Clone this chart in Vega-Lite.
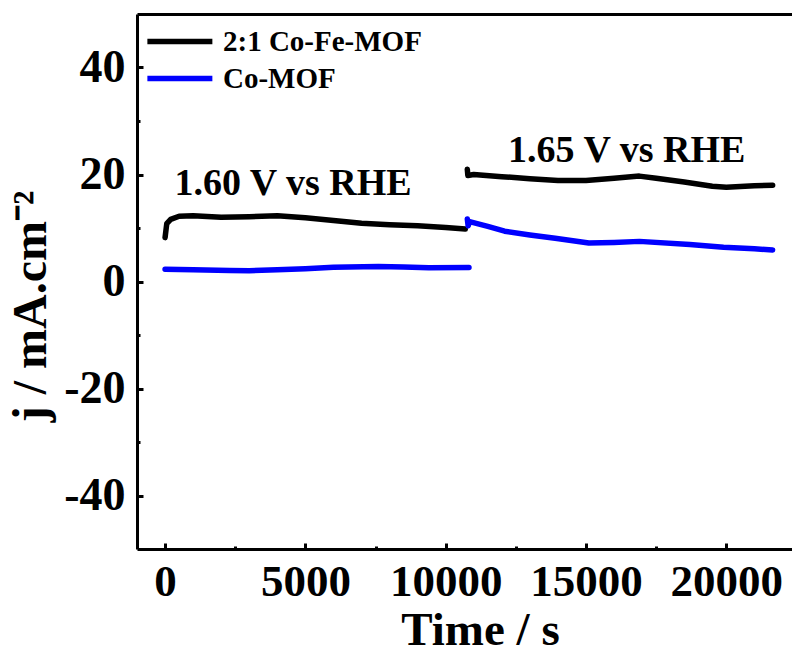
{
  "$schema": "https://vega.github.io/schema/vega-lite/v6.json",
  "autosize": "none",
  "width": 655,
  "height": 535,
  "padding": {"left": 137, "top": 14, "right": 0, "bottom": 106},
  "background": "white",
  "view": {"stroke": null},
  "config": {
    "font": "Liberation Serif",
    "axis": {"grid": false, "domainColor": "black", "domainWidth": 3, "tickColor": "black", "tickWidth": 3, "labelColor": "black", "titleColor": "black", "labelFont": "Liberation Serif", "titleFont": "Liberation Serif", "labelFontWeight": "bold", "titleFontWeight": "bold"}
  },
  "datasets": {
    "curves": [
      {"series": "2:1 Co-Fe-MOF", "seg": "a1", "t": 0, "j": 8.2},
      {"series": "2:1 Co-Fe-MOF", "seg": "a1", "t": 60, "j": 10.8},
      {"series": "2:1 Co-Fe-MOF", "seg": "a1", "t": 200, "j": 11.6},
      {"series": "2:1 Co-Fe-MOF", "seg": "a1", "t": 500, "j": 12.2},
      {"series": "2:1 Co-Fe-MOF", "seg": "a1", "t": 1000, "j": 12.3},
      {"series": "2:1 Co-Fe-MOF", "seg": "a1", "t": 2000, "j": 12.0},
      {"series": "2:1 Co-Fe-MOF", "seg": "a1", "t": 3000, "j": 12.1},
      {"series": "2:1 Co-Fe-MOF", "seg": "a1", "t": 4000, "j": 12.3},
      {"series": "2:1 Co-Fe-MOF", "seg": "a1", "t": 5000, "j": 11.9},
      {"series": "2:1 Co-Fe-MOF", "seg": "a1", "t": 6000, "j": 11.4},
      {"series": "2:1 Co-Fe-MOF", "seg": "a1", "t": 7000, "j": 10.9},
      {"series": "2:1 Co-Fe-MOF", "seg": "a1", "t": 8000, "j": 10.6},
      {"series": "2:1 Co-Fe-MOF", "seg": "a1", "t": 9000, "j": 10.4},
      {"series": "2:1 Co-Fe-MOF", "seg": "a1", "t": 10000, "j": 10.1},
      {"series": "2:1 Co-Fe-MOF", "seg": "a1", "t": 10700, "j": 9.8},
      {"series": "2:1 Co-Fe-MOF", "seg": "a2", "t": 10770, "j": 21.0},
      {"series": "2:1 Co-Fe-MOF", "seg": "a2", "t": 10790, "j": 19.8},
      {"series": "2:1 Co-Fe-MOF", "seg": "a2", "t": 11000, "j": 20.0},
      {"series": "2:1 Co-Fe-MOF", "seg": "a2", "t": 12000, "j": 19.6},
      {"series": "2:1 Co-Fe-MOF", "seg": "a2", "t": 13000, "j": 19.2},
      {"series": "2:1 Co-Fe-MOF", "seg": "a2", "t": 14000, "j": 18.9},
      {"series": "2:1 Co-Fe-MOF", "seg": "a2", "t": 15000, "j": 18.9},
      {"series": "2:1 Co-Fe-MOF", "seg": "a2", "t": 16000, "j": 19.3},
      {"series": "2:1 Co-Fe-MOF", "seg": "a2", "t": 16900, "j": 19.7},
      {"series": "2:1 Co-Fe-MOF", "seg": "a2", "t": 17500, "j": 19.3},
      {"series": "2:1 Co-Fe-MOF", "seg": "a2", "t": 18500, "j": 18.6},
      {"series": "2:1 Co-Fe-MOF", "seg": "a2", "t": 19500, "j": 17.8},
      {"series": "2:1 Co-Fe-MOF", "seg": "a2", "t": 20000, "j": 17.6},
      {"series": "2:1 Co-Fe-MOF", "seg": "a2", "t": 21000, "j": 17.9},
      {"series": "2:1 Co-Fe-MOF", "seg": "a2", "t": 21650, "j": 18.0},
      {"series": "Co-MOF", "seg": "b1", "t": 0, "j": 2.3},
      {"series": "Co-MOF", "seg": "b1", "t": 1000, "j": 2.2},
      {"series": "Co-MOF", "seg": "b1", "t": 2300, "j": 2.05},
      {"series": "Co-MOF", "seg": "b1", "t": 3000, "j": 2.0},
      {"series": "Co-MOF", "seg": "b1", "t": 4000, "j": 2.2},
      {"series": "Co-MOF", "seg": "b1", "t": 5000, "j": 2.4},
      {"series": "Co-MOF", "seg": "b1", "t": 6000, "j": 2.65},
      {"series": "Co-MOF", "seg": "b1", "t": 7600, "j": 2.8},
      {"series": "Co-MOF", "seg": "b1", "t": 8500, "j": 2.7},
      {"series": "Co-MOF", "seg": "b1", "t": 9400, "j": 2.55},
      {"series": "Co-MOF", "seg": "b1", "t": 10830, "j": 2.6},
      {"series": "Co-MOF", "seg": "b2", "t": 10770, "j": 11.7},
      {"series": "Co-MOF", "seg": "b2", "t": 10800, "j": 10.4},
      {"series": "Co-MOF", "seg": "b2", "t": 10850, "j": 11.2},
      {"series": "Co-MOF", "seg": "b2", "t": 11500, "j": 10.3},
      {"series": "Co-MOF", "seg": "b2", "t": 12100, "j": 9.4},
      {"series": "Co-MOF", "seg": "b2", "t": 13000, "j": 8.7},
      {"series": "Co-MOF", "seg": "b2", "t": 13900, "j": 8.1},
      {"series": "Co-MOF", "seg": "b2", "t": 15100, "j": 7.2},
      {"series": "Co-MOF", "seg": "b2", "t": 16000, "j": 7.3},
      {"series": "Co-MOF", "seg": "b2", "t": 16900, "j": 7.5},
      {"series": "Co-MOF", "seg": "b2", "t": 18700, "j": 6.9},
      {"series": "Co-MOF", "seg": "b2", "t": 19900, "j": 6.4},
      {"series": "Co-MOF", "seg": "b2", "t": 21000, "j": 6.1},
      {"series": "Co-MOF", "seg": "b2", "t": 21650, "j": 5.9}
    ],
    "notes": [
      {"t": 4560, "j": 16.2, "label": "1.60 V vs RHE"},
      {"t": 16450, "j": 22.4, "label": "1.65 V vs RHE"}
    ]
  },
  "layer": [
    {
      "data": {"name": "curves"},
      "mark": {"type": "line", "strokeWidth": 5.5, "strokeCap": "round", "strokeJoin": "round", "clip": true},
      "encoding": {
        "x": {
          "field": "t", "type": "quantitative",
          "scale": {"domain": [-1000, 22340], "nice": false, "zero": false},
          "axis": {
            "orient": "bottom",
            "values": [0, 2500, 5000, 7500, 10000, 12500, 15000, 17500, 20000],
            "labelExpr": "datum.value % 5000 === 0 ? '' + datum.value : ''",
            "tickSize": {"condition": {"test": "datum.value % 5000 === 0", "value": -6}, "value": -3},
            "labelPadding": 16,
            "labelFontSize": 45,
            "labelFlush": false,
            "labelOverlap": false,
            "title": "Time / s",
            "titleFontSize": 47,
            "titleBaseline": "alphabetic",
            "titleAlign": "center",
            "titleX": 343,
            "titleY": 95
          }
        },
        "y": {
          "field": "j", "type": "quantitative",
          "scale": {"domain": [-50, 50], "nice": false, "zero": false},
          "axis": {
            "values": [-40, -30, -20, -10, 0, 10, 20, 30, 40],
            "labelExpr": "datum.value % 20 === 0 ? '' + datum.value : ''",
            "tickSize": {"condition": {"test": "datum.value % 20 === 0", "value": -6}, "value": -3},
            "labelPadding": 18,
            "labelFontSize": 46,
            "labelFlush": false,
            "labelOverlap": false,
            "title": "j / mA.cm⁻²",
            "titleFontSize": 48,
            "titleAngle": -90,
            "titleBaseline": "alphabetic",
            "titleAlign": "center",
            "titleX": -92,
            "titleY": 292
          }
        },
        "color": {
          "field": "series", "type": "nominal",
          "scale": {"domain": ["2:1 Co-Fe-MOF", "Co-MOF"], "range": ["#000000", "#0000ff"]},
          "legend": {
            "title": null,
            "orient": "none",
            "legendX": 4,
            "legendY": 13,
            "padding": 0,
            "symbolType": "M-1,0H7",
            "symbolSize": 264,
            "symbolStrokeWidth": 5.5,
            "symbolFillColor": "transparent",
            "labelOffset": 53,
            "labelFont": "Liberation Serif",
            "labelFontWeight": "bold",
            "labelFontSize": 29,
            "labelColor": "black",
            "rowPadding": 7,
            "labelLimit": 400
          }
        },
        "detail": {"field": "seg"},
        "order": {"field": "t", "type": "quantitative"}
      }
    },
    {
      "data": {"name": "notes"},
      "mark": {"type": "text", "font": "Liberation Serif", "fontWeight": "bold", "fontSize": 38, "align": "center", "baseline": "alphabetic", "color": "black"},
      "encoding": {
        "x": {
          "field": "t", "type": "quantitative",
          "scale": {"domain": [-1000, 22340], "nice": false, "zero": false},
          "axis": {"orient": "top", "ticks": false, "labels": false, "title": null, "domain": true}
        },
        "y": {"field": "j", "type": "quantitative"},
        "text": {"field": "label"}
      }
    }
  ],
  "resolve": {"axis": {"x": "independent"}}
}
